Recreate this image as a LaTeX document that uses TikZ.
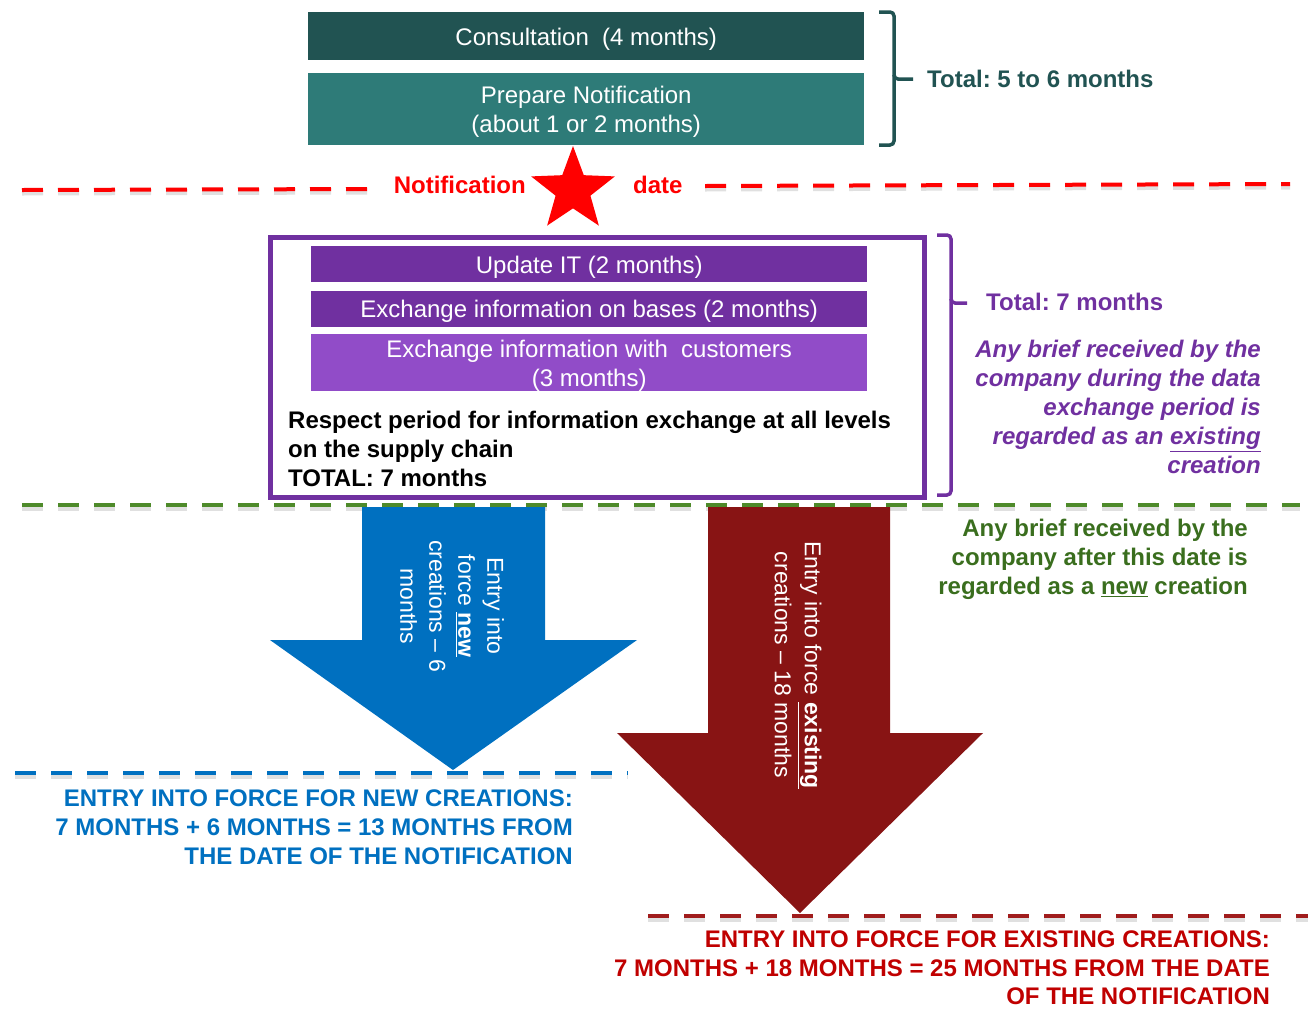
\documentclass[tikz,border=0pt]{standalone}
\usepackage{fontspec}
\setmainfont{Liberation Sans}
\usetikzlibrary{shapes.geometric}
\definecolor{tealdark}{HTML}{215352}
\definecolor{tealmid}{HTML}{2E7B78}
\definecolor{purp}{HTML}{7030A0}
\definecolor{purplight}{HTML}{914CC8}
\definecolor{notered}{HTML}{FF0000}
\definecolor{dgreen}{HTML}{4E8A2A}
\definecolor{tgreen}{HTML}{3A6E1E}
\definecolor{blu}{HTML}{0070C0}
\definecolor{maroon}{HTML}{881414}
\definecolor{maroonline}{HTML}{A01C1C}
\definecolor{redtxt}{HTML}{C00000}
\frenchspacing
\begin{document}
\frenchspacing
\begin{tikzpicture}[x=1pt,y=-1pt,
  bar/.style={draw=none,minimum width=556pt,anchor=north west,inner sep=0pt},
  bartxt/.style={text=white,font=\fontsize{24}{29}\selectfont,inner sep=0pt,align=center},
  dline/.style={line width=4pt,dash pattern=on 21pt off 15pt},
  shadowline/.style={line width=5pt,dash pattern=on 21pt off 15pt,draw=black,opacity=0.12},
  bracep/.style={line width=3.5pt,rounded corners=4pt},
  lbl/.style={inner sep=0pt,font=\fontsize{24}{29}\selectfont\bfseries}]
\useasboundingbox (0,0) rectangle (1311,1010);
% top boxes
\node[bar,fill=tealdark,minimum height=48pt] (cons) at (308,12) {};
\node[bartxt,yshift=-3pt] (constxt) at (cons.center) {Consultation\ \ (4 months)};
\node[bar,fill=tealmid,minimum height=72pt] (prep) at (308,73) {};
\node[bartxt,yshift=-3pt] (preptxt) at (prep.center) {Prepare Notification\\(about 1 or 2 months)};
% top brace
\draw[bracep,draw=tealdark] (879,12) -- (894,12) -- (894,79) -- (913,79);
\draw[bracep,draw=tealdark] (894,75) -- (894,145) -- (879,145);
\node[lbl,text=tealdark,anchor=west] (tot1) at (927,79) {Total: 5 to 6 months};
% red notification line
\draw[shadowline] (22,193) -- (372,192);
\draw[shadowline] (705,189) -- (1290,187);
\draw[dline,draw=notered] (22,190) -- (372,189);
\draw[dline,draw=notered] (705,186) -- (1290,184);
\node[lbl,text=notered,anchor=east] (notif) at (526,185) {Notification};
\node[lbl,text=notered,anchor=west] (date) at (633,185) {date};
\node[star,star points=5,star point ratio=2.4,fill=notered,minimum size=88pt,inner sep=0pt] (star) at (573,190) {};
% purple frame
\node[draw=purp,line width=5pt,minimum width=654pt,minimum height=260pt,anchor=north west,inner sep=0pt] (frame) at (268,235) {};
\node[bar,fill=purp,minimum height=36pt] (upd) at (311,246) {};
\node[bartxt,yshift=-3pt] (updtxt) at (upd.center) {Update IT (2 months)};
\node[bar,fill=purp,minimum height=36pt] (exb) at (311,291) {};
\node[bartxt,yshift=-2pt] (exbtxt) at (exb.center) {Exchange information on bases (2 months)};
\node[bar,fill=purplight,minimum height=57pt] (exc) at (311,334) {};
\node[bartxt,yshift=-3pt] (exctxt) at (exc.center) {Exchange information with\ \ customers\\(3 months)};
\node[anchor=north west,inner sep=0pt,align=left,font=\fontsize{24}{29}\selectfont\bfseries] (resp) at (288,411) {Respect period for information exchange at all levels\\on the supply chain\\TOTAL: 7 months};
% purple brace
\draw[bracep,draw=purp] (937,235) -- (951,235) -- (951,303) -- (967,303);
\draw[bracep,draw=purp] (951,299) -- (951,495) -- (937,495);
\node[lbl,text=purp,anchor=west] (tot2) at (986,302) {Total: 7 months};
\node[anchor=north east,inner sep=0pt,align=right,text=purp,font=\fontsize{24}{29}\selectfont\bfseries\itshape] (brief1) at (1261,340) {Any brief received by the\\company during the data\\exchange period is\\regarded as an \underline{existing}\\creation};
% green line
\draw[shadowline] (22,508) -- (1300,508);
\draw[dline,draw=dgreen] (22,505) -- (1300,505);
\node[anchor=north east,inner sep=0pt,align=right,text=tgreen,font=\fontsize{24}{29}\selectfont\bfseries] (brief2) at (1248,519) {Any brief received by the\\company after this date is\\regarded as a \underline{new} creation};
% blue arrow
\fill[blu] (362,507) -- (545,507) -- (545,640) -- (637,640) -- (453,770) -- (270,640) -- (362,640) -- cycle;
\node[rotate=-90,text=white,align=center,inner sep=0pt,font=\fontsize{23}{29}\selectfont] (bluetxt) at (452,606) {Entry into\\force \textbf{\underline{new}}\\creations -- 6\\months};
\draw[shadowline] (15,776) -- (628,776);
\draw[dline,draw=blu] (15,773) -- (628,773);
\node[anchor=north east,inner sep=0pt,align=right,text=blu,font=\fontsize{24}{29}\selectfont\bfseries] (newtxt) at (573,790) {ENTRY INTO FORCE FOR NEW CREATIONS:\\7 MONTHS + 6 MONTHS = 13 MONTHS FROM\\THE DATE OF THE NOTIFICATION};
% maroon arrow
\fill[maroon] (708,507) -- (890,507) -- (890,733) -- (983,733) -- (800,913) -- (617,733) -- (708,733) -- cycle;
\node[rotate=-90,text=white,align=center,inner sep=0pt,font=\fontsize{23}{30}\selectfont] (redtxt) at (798,665) {Entry into force \textbf{\underline{existing}}\\creations -- 18 months};
\draw[shadowline] (648,919) -- (1308,919);
\draw[dline,draw=maroonline] (648,916) -- (1308,916);
\node[anchor=north east,inner sep=0pt,align=right,text=redtxt,font=\fontsize{24}{28.5}\selectfont\bfseries] (exttxt) at (1270,931) {ENTRY INTO FORCE FOR EXISTING CREATIONS:\\7 MONTHS + 18 MONTHS = 25 MONTHS FROM THE DATE\\OF THE NOTIFICATION};
\end{tikzpicture}
\end{document}
